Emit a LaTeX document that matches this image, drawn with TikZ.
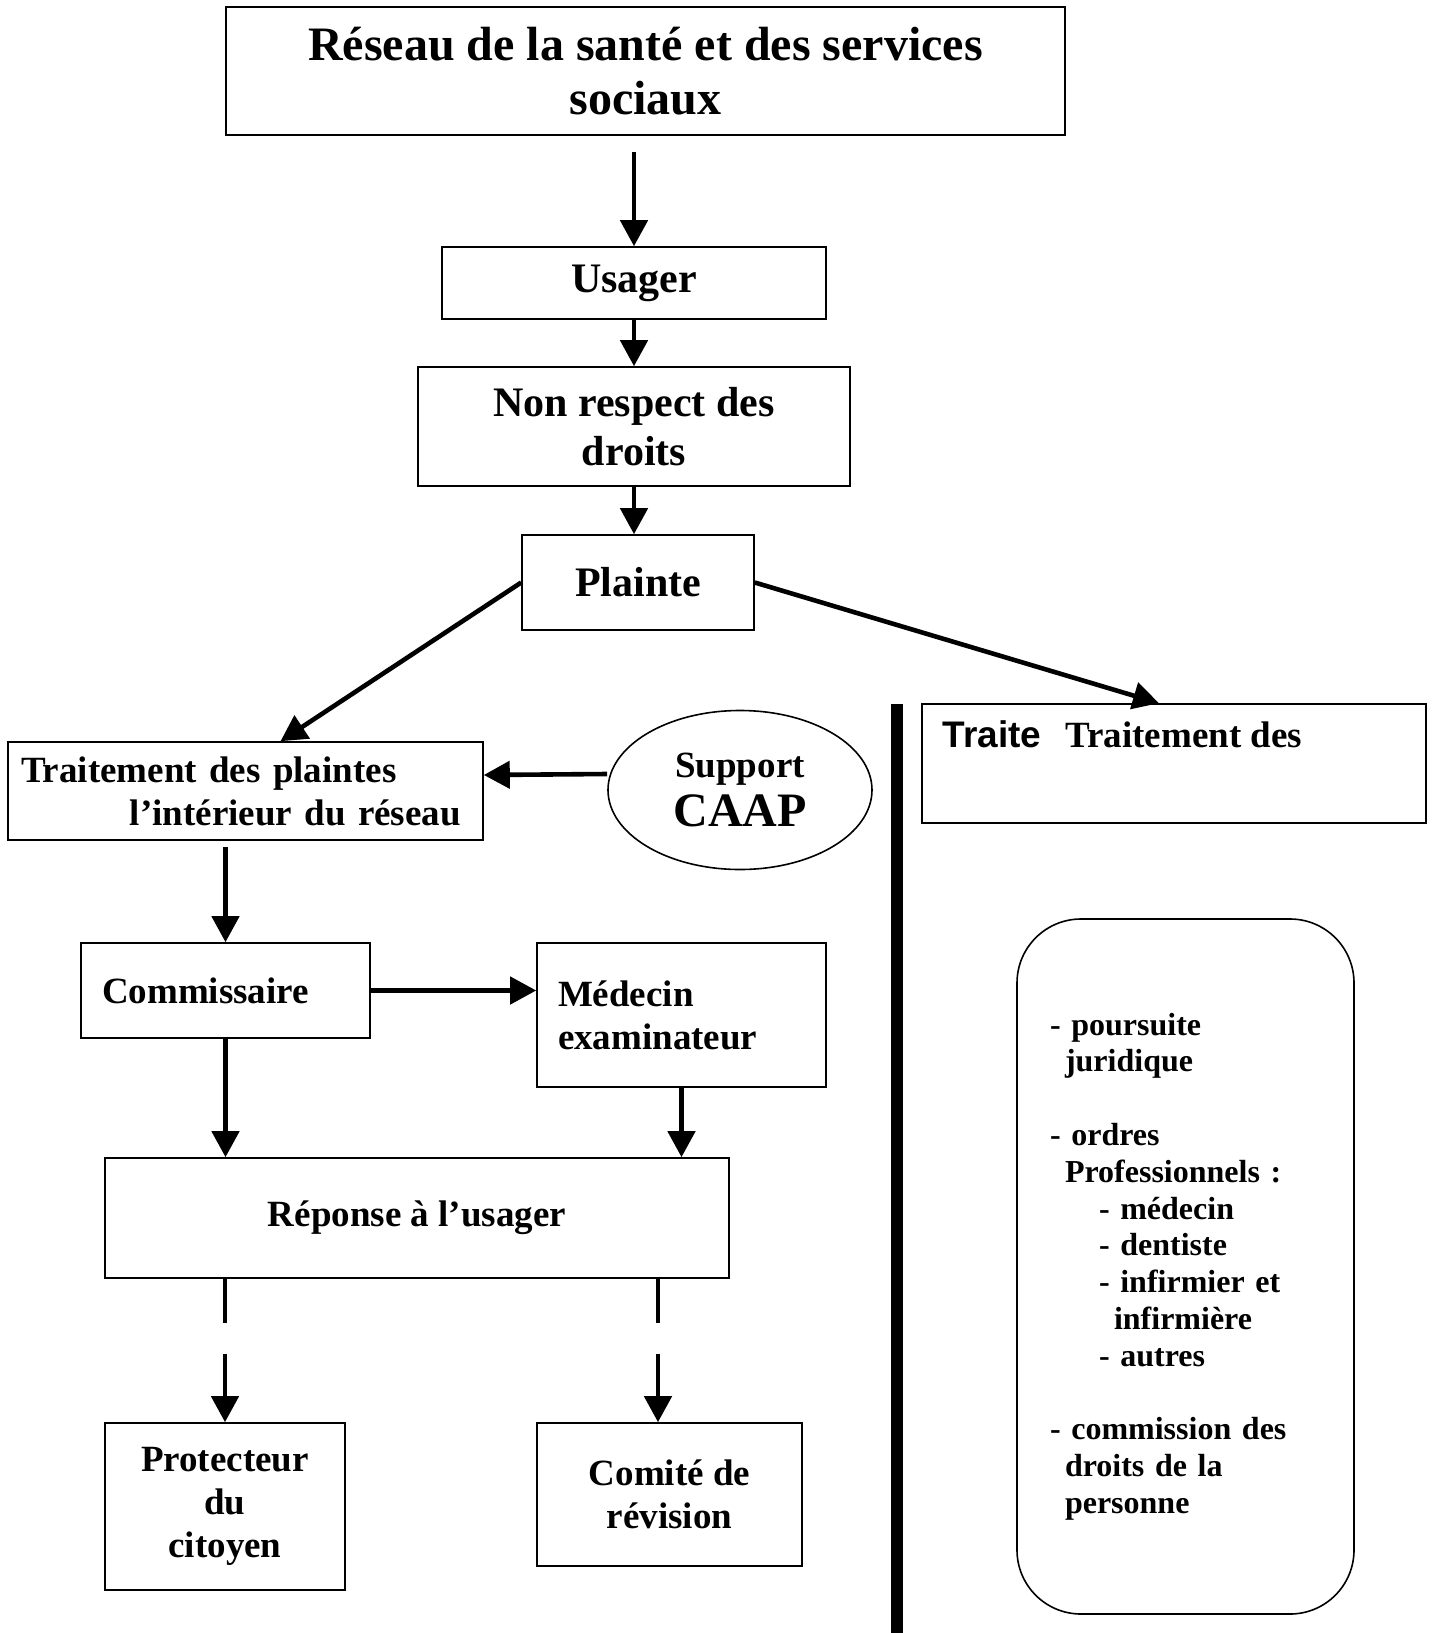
\documentclass[tikz,border=0pt]{standalone}
\usepackage{fontspec}
\setmainfont{Liberation Serif}
\newfontfamily\arialfont{Liberation Sans}
\usetikzlibrary{shapes.geometric}
\usetikzlibrary{arrows.meta}

\begin{document}
\begin{tikzpicture}[x=0.5pt, y=-0.5pt,
	box/.style={draw, line width=0.8pt, inner sep=0pt, align=center},
	grand/.style={font=\bfseries\fontsize{24}{27}\selectfont},
	moyen/.style={font=\bfseries\fontsize{21}{24.5}\selectfont},
	petit/.style={font=\bfseries\fontsize{18.5}{21.5}\selectfont},
	fleche/.style={line width=2.3pt, -{Triangle[width=13.5pt, length=13pt]}},
	tirets/.style={fleche, dash pattern=on 22pt off 15.5pt on 200pt}]
	\useasboundingbox (0,0) rectangle (1432,1633);
	
	\node[box, grand, minimum width=419.5pt, minimum height=64pt] (reseau) at (645.5,71) {Réseau de la santé et des services\\sociaux};
	\node[box, moyen, minimum width=192pt, minimum height=36pt] (usager) at (634,283) {Usager};
	\node[box, moyen, minimum width=216pt, minimum height=59.5pt] (nonrespect) at (634,426.5) {Non respect des\\droits};
	\node[box, moyen, minimum width=116pt, minimum height=47.5pt] (plainte) at (638,582.5) {Plainte};
	
	\node[box, petit, text width=224.5pt, align=left, inner xsep=6.5pt, minimum height=49pt] (interne) at (245.5,791) {Traitement des plaintes\\\hspace*{54.5pt}l’intérieur du réseau};
	\node[box, ellipse, petit, minimum width=132pt, minimum height=79.5pt, font=\bfseries\fontsize{18.5}{24.5}\selectfont] (caap) at (740,790) {Support\\{\fontsize{24}{24.5}\selectfont CAAP}};
	\node[box, minimum width=252pt, minimum height=59.5pt,
	label={[anchor=west, inner sep=0pt, xshift=10.5pt, yshift=-15.5pt, petit]north west:{\arialfont\bfseries Traite}\hspace{12pt}Traitement des}] (externe) at (1174,763.5) {};
	
	\node[box, petit, text width=123.5pt, align=left, inner xsep=10.5pt, minimum height=47.5pt] (commissaire) at (225.5,990.5) {Commissaire};
	\node[box, petit, text width=123.5pt, align=left, inner xsep=10.5pt, minimum height=72pt] (medecin) at (681.5,1015) {Médecin\\examinateur};
	\node[box, petit, minimum width=312pt, minimum height=60pt] (reponse) at (417,1218) {Réponse à l’usager};
	\node[box, petit, minimum width=120pt, minimum height=83.5pt] (protecteur) at (225,1506.5) {Protecteur\\du\\citoyen};
	\node[box, petit, minimum width=132.5pt, minimum height=71.5pt] (comite) at (669.5,1494.5) {Comité de\\révision};
	
	\node[box, rounded corners=32pt, text width=135.5pt, align=left, inner xsep=16.5pt, minimum height=347.5pt, font=\bfseries\fontsize{16}{18.4}\selectfont] (liste) at (1185.5,1266.5) {- poursuite\\
		\hspace*{7.5pt}juridique\\[18.4pt]
		- ordres\\
		\hspace*{7.5pt}Professionnels :\\
		\hspace*{24.5pt}- médecin\\
		\hspace*{24.5pt}- dentiste\\
		\hspace*{24.5pt}- infirmier et\\
		\hspace*{32pt}infirmière\\
		\hspace*{24.5pt}- autres\\[18.4pt]
		- commission des\\
		\hspace*{7.5pt}droits de la\\
		\hspace*{7.5pt}personne};
	
	% separation
	\draw[line width=6.25pt] (897,704) -- (897,1633);
	
	\draw[fleche, shorten <=8pt] (usager.north |- reseau.south) -- (usager.north);
	\draw[fleche] (usager.south) -- (nonrespect.north);
	\draw[fleche] (nonrespect.south) -- (nonrespect.south |- plainte.north);
	\draw[fleche] (plainte.west) -- ([xshift=17.5pt]interne.north);
	\draw[fleche] (plainte.east) -- ([xshift=-7.5pt]externe.north);
	\draw[fleche] ([yshift=8pt]caap.west) -- ([yshift=8pt]interne.east);
	\draw[fleche, shorten <=3pt] (commissaire.north |- interne.south) -- (commissaire.north);
	\draw[fleche] (commissaire.east) -- (commissaire.east -| medecin.west);
	\draw[fleche] (commissaire.south) -- (commissaire.south |- reponse.north);
	\draw[fleche] (medecin.south) -- (medecin.south |- reponse.north);
	
	\coordinate (revision) at ([xshift=-5.75pt]comite.north);
	\draw[tirets] (protecteur.north |- reponse.south) -- (protecteur.north);
	\draw[tirets] (revision |- reponse.south) -- (revision);
\end{tikzpicture}
\end{document}
